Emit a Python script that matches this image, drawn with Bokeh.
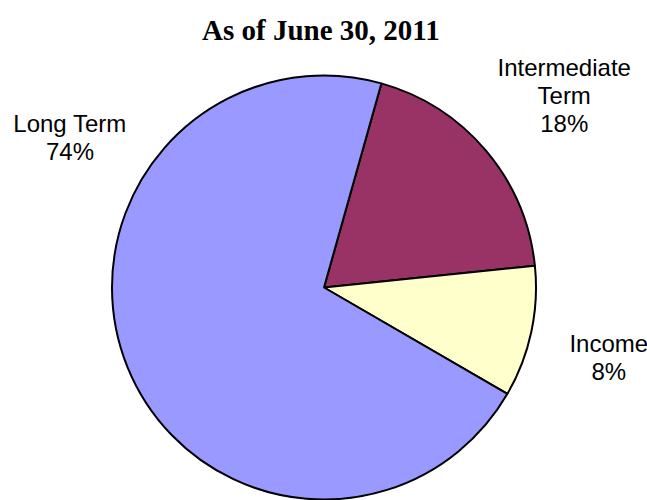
from math import radians
from bokeh.plotting import figure
from bokeh.models import ColumnDataSource, Range1d
from bokeh.core.properties import value
from bokeh.embed import file_html
from bokeh.resources import INLINE

# ---- data ----
title_text = "As of June 30, 2011"
categories = ["Intermediate Term", "Income", "Long Term"]
shares = [19.0, 10.0, 71.0]           # slice sizes as drawn
pct_labels = ["18%", "8%", "74%"]     # printed labels
colors = ["#993366", "#FFFFCC", "#9999FF"]

# ---- layout ----
W, H = 647, 500
cx, cy_px, R = 323.5, 287.0, 212.0
start_deg = 74.3
# label anchor (center x, first baseline y in px) per category
label_pos = [(563.7, 66.7), (608.3, 343.3), (69.5, 123.0)]
line_h = 28.0

def Y(py):
    return H - py

total = sum(shares)
starts, ends = [], []
cum = 0.0
for s in shares:
    a0 = start_deg - cum / total * 360.0
    a1 = a0 - s / total * 360.0
    starts.append(radians(a0))
    ends.append(radians(a1))
    cum += s

src = ColumnDataSource(dict(
    x=[cx] * len(shares), y=[Y(cy_px)] * len(shares),
    start=starts, end=ends, color=colors, cat=categories))

p = figure(width=W, height=H, x_range=Range1d(0, W), y_range=Range1d(0, H),
           x_axis_type=None, y_axis_type=None, toolbar_location=None,
           output_backend="svg", min_border=0, outline_line_color=None)
p.grid.visible = False
p.background_fill_color = "white"
p.border_fill_color = "white"

p.wedge(x="x", y="y", radius=R, radius_units="data", start_angle="start",
        end_angle="end", direction="clock", fill_color="color",
        line_color="black", line_width=2, source=src)

# title
p.text(x=[320.4], y=[Y(29.3)], text=[title_text], text_align="center",
       text_baseline="alphabetic", text_font=value("Liberation Serif"),
       text_font_style="bold", text_font_size="29px", text_color="black")

# labels
lx, ly, lt = [], [], []
for cat, pct, (px, py) in zip(categories, pct_labels, label_pos):
    lines = cat.split(" ") if cat == "Intermediate Term" else [cat]
    lines = lines + [pct]
    for i, ln in enumerate(lines):
        lx.append(px)
        ly.append(Y(py + i * line_h))
        lt.append(ln)
p.text(x=lx, y=ly, text=lt, text_align="center", text_baseline="alphabetic",
       text_font=value("Liberation Sans"), text_font_size="24px",
       text_color="black")

open("out.html", "w").write(file_html(p, INLINE))
